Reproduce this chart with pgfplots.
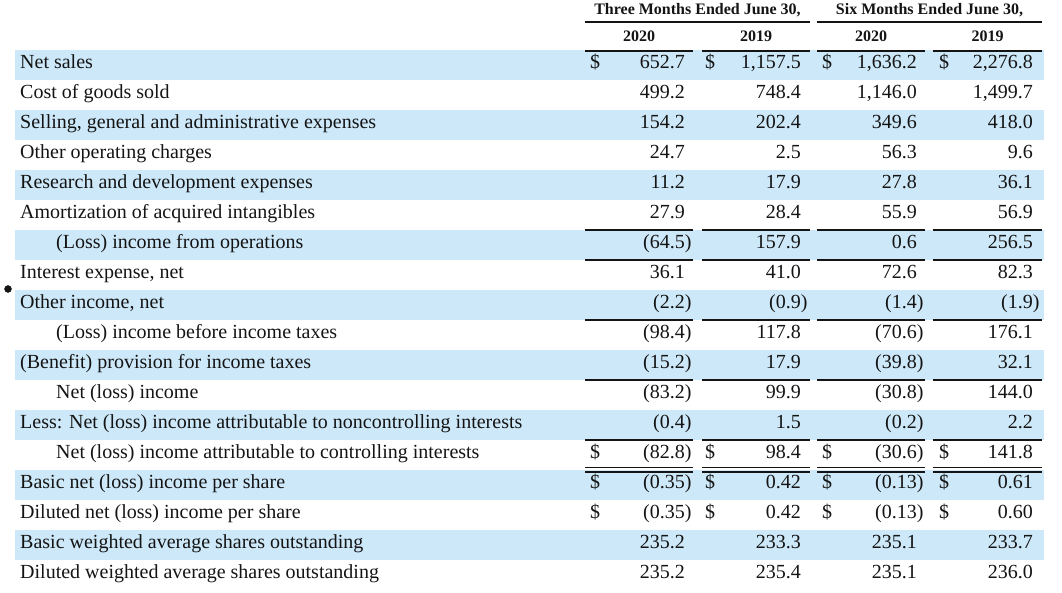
\documentclass[border=0pt]{standalone}
\usepackage{fontspec}
\setmainfont{Liberation Serif}
\usepackage{pgfplots}
\usepackage{pgfplotstable}
\pgfplotsset{compat=1.18}
\definecolor{band}{RGB}{205,232,248}
\definecolor{ink}{RGB}{20,20,20}
\newcommand{\pn}[1]{(#1\rlap{)}}

\pgfplotstableread[col sep=semicolon,row sep=\\]{
x;y;t\\
20;68.5;Net sales\\
20;98.5;Cost of goods sold\\
20;128.5;Selling, general and administrative expenses\\
20;158.5;Other operating charges\\
20;188.5;Research and development expenses\\
20;218.5;Amortization of acquired intangibles\\
56;248.5;(Loss) income from operations\\
20;278.5;Interest expense, net\\
20;308.5;Other income, net\\
56;338.5;(Loss) income before income taxes\\
20;368.5;(Benefit) provision for income taxes\\
56;398.5;Net (loss) income\\
20;428.5;Less: Net (loss) income attributable to noncontrolling interests\\
56;458.5;Net (loss) income attributable to controlling interests\\
20;488.5;Basic net (loss) income per share\\
20;518.5;Diluted net (loss) income per share\\
20;548.5;Basic weighted average shares outstanding\\
20;578.5;Diluted weighted average shares outstanding\\
}\labels

\pgfplotstableread[col sep=semicolon,row sep=\\]{
x;y;t\\
685;68.5;652.7\\
801;68.5;1,157.5\\
917;68.5;1,636.2\\
1033;68.5;2,276.8\\
685;98.5;499.2\\
801;98.5;748.4\\
917;98.5;1,146.0\\
1033;98.5;1,499.7\\
685;128.5;154.2\\
801;128.5;202.4\\
917;128.5;349.6\\
1033;128.5;418.0\\
685;158.5;24.7\\
801;158.5;2.5\\
917;158.5;56.3\\
1033;158.5;9.6\\
685;188.5;11.2\\
801;188.5;17.9\\
917;188.5;27.8\\
1033;188.5;36.1\\
685;218.5;27.9\\
801;218.5;28.4\\
917;218.5;55.9\\
1033;218.5;56.9\\
685;248.5;\pn{64.5}\\
801;248.5;157.9\\
917;248.5;0.6\\
1033;248.5;256.5\\
685;278.5;36.1\\
801;278.5;41.0\\
917;278.5;72.6\\
1033;278.5;82.3\\
685;308.5;\pn{2.2}\\
801;308.5;\pn{0.9}\\
917;308.5;\pn{1.4}\\
1033;308.5;\pn{1.9}\\
685;338.5;\pn{98.4}\\
801;338.5;117.8\\
917;338.5;\pn{70.6}\\
1033;338.5;176.1\\
685;368.5;\pn{15.2}\\
801;368.5;17.9\\
917;368.5;\pn{39.8}\\
1033;368.5;32.1\\
685;398.5;\pn{83.2}\\
801;398.5;99.9\\
917;398.5;\pn{30.8}\\
1033;398.5;144.0\\
685;428.5;\pn{0.4}\\
801;428.5;1.5\\
917;428.5;\pn{0.2}\\
1033;428.5;2.2\\
685;458.5;\pn{82.8}\\
801;458.5;98.4\\
917;458.5;\pn{30.6}\\
1033;458.5;141.8\\
685;488.5;\pn{0.35}\\
801;488.5;0.42\\
917;488.5;\pn{0.13}\\
1033;488.5;0.61\\
685;518.5;\pn{0.35}\\
801;518.5;0.42\\
917;518.5;\pn{0.13}\\
1033;518.5;0.60\\
685;548.5;235.2\\
801;548.5;233.3\\
917;548.5;235.1\\
1033;548.5;233.7\\
685;578.5;235.2\\
801;578.5;235.4\\
917;578.5;235.1\\
1033;578.5;236.0\\
}\numbers

\pgfplotstableread[col sep=semicolon,row sep=\\]{
x;y\\
590;68.5\\ 705;68.5\\ 822;68.5\\ 939;68.5\\
590;458.5\\ 705;458.5\\ 822;458.5\\ 939;458.5\\
590;488.5\\ 705;488.5\\ 822;488.5\\ 939;488.5\\
590;518.5\\ 705;518.5\\ 822;518.5\\ 939;518.5\\
}\dollars

\pgfplotstableread[col sep=semicolon,row sep=\\]{
x;y;t\\
697.5;15;Three Months Ended June 30,\\
929.5;15;Six Months Ended June 30,\\
639;41.5;2020\\
756;41.5;2019\\
871;41.5;2020\\
987.5;41.5;2019\\
}\headers

\begin{document}
\begin{tikzpicture}
\begin{axis}[
  width=1062pt, height=593pt, scale only axis,
  xmin=0, xmax=1062, ymin=0, ymax=593,
  y dir=reverse, hide axis, clip=false,
  unbounded coords=jump,
]
% bands
\addplot[fill=band, draw=none] coordinates {(15,50) (1044,50) (1044,80) (15,80)} -- cycle;
\addplot[fill=band, draw=none] coordinates {(15,110) (1044,110) (1044,140) (15,140)} -- cycle;
\addplot[fill=band, draw=none] coordinates {(15,170) (1044,170) (1044,200) (15,200)} -- cycle;
\addplot[fill=band, draw=none] coordinates {(15,230) (1044,230) (1044,260) (15,260)} -- cycle;
\addplot[fill=band, draw=none] coordinates {(15,290) (1044,290) (1044,320) (15,320)} -- cycle;
\addplot[fill=band, draw=none] coordinates {(15,350) (1044,350) (1044,380) (15,380)} -- cycle;
\addplot[fill=band, draw=none] coordinates {(15,410) (1044,410) (1044,440) (15,440)} -- cycle;
\addplot[fill=band, draw=none] coordinates {(15,470) (1044,470) (1044,500) (15,500)} -- cycle;
\addplot[fill=band, draw=none] coordinates {(15,530) (1044,530) (1044,560) (15,560)} -- cycle;
% header rules
\addplot[ink, line width=2.5pt, mark=none] table[row sep=\\] {
x y\\ 585 22\\ 810 22\\ nan nan\\ 817 22\\ 1042 22\\
};
% column rules
\addplot[ink, line width=2.5pt, mark=none] table[row sep=\\] {
x y\\
585 51\\ 693 51\\ nan nan\\ 702 51\\ 810 51\\ nan nan\\ 817 51\\ 925 51\\ nan nan\\ 933 51\\ 1042 51\\ nan nan\\
585 230\\ 693 230\\ nan nan\\ 702 230\\ 810 230\\ nan nan\\ 817 230\\ 925 230\\ nan nan\\ 933 230\\ 1042 230\\ nan nan\\
585 260\\ 693 260\\ nan nan\\ 702 260\\ 810 260\\ nan nan\\ 817 260\\ 925 260\\ nan nan\\ 933 260\\ 1042 260\\ nan nan\\
585 320\\ 693 320\\ nan nan\\ 702 320\\ 810 320\\ nan nan\\ 817 320\\ 925 320\\ nan nan\\ 933 320\\ 1042 320\\ nan nan\\
585 380\\ 693 380\\ nan nan\\ 702 380\\ 810 380\\ nan nan\\ 817 380\\ 925 380\\ nan nan\\ 933 380\\ 1042 380\\ nan nan\\
585 440\\ 693 440\\ nan nan\\ 702 440\\ 810 440\\ nan nan\\ 817 440\\ 925 440\\ nan nan\\ 933 440\\ 1042 440\\
};
% double rules
\addplot[ink, line width=1.5pt, mark=none] table[row sep=\\] {
x y\\
585 467.5\\ 693 467.5\\ nan nan\\ 702 467.5\\ 810 467.5\\ nan nan\\ 817 467.5\\ 925 467.5\\ nan nan\\ 933 467.5\\ 1042 467.5\\ nan nan\\
585 472\\ 693 472\\ nan nan\\ 702 472\\ 810 472\\ nan nan\\ 817 472\\ 925 472\\ nan nan\\ 933 472\\ 1042 472\\
};
% bullet
\addplot[only marks, mark=*, mark size=3.5pt, ink] coordinates {(8,289)};
% labels
\addplot[draw=none, mark=none, nodes near coords, point meta=explicit symbolic,
  every node near coord/.style={anchor=base west, inner sep=0pt, text=ink, font=\fontsize{20}{24}\selectfont}]
  table[x=x, y=y, meta=t] {\labels};
% numbers
\addplot[draw=none, mark=none, nodes near coords, point meta=explicit symbolic,
  every node near coord/.style={anchor=base east, inner sep=0pt, text=ink, font=\fontsize{20}{24}\selectfont}]
  table[x=x, y=y, meta=t] {\numbers};
% dollar signs
\addplot[draw=none, mark=none, nodes near coords={\$}, point meta=x,
  every node near coord/.style={anchor=base west, inner sep=0pt, text=ink, font=\fontsize{20}{24}\selectfont}]
  table[x=x, y=y] {\dollars};
% headers
\addplot[draw=none, mark=none, nodes near coords, point meta=explicit symbolic,
  every node near coord/.style={anchor=base, inner sep=0pt, text=ink, font=\fontsize{16}{19}\selectfont\bfseries}]
  table[x=x, y=y, meta=t] {\headers};
% full-size bounding box
\path (rel axis cs:0,0) rectangle (rel axis cs:1,1);
\end{axis}
\end{tikzpicture}
\end{document}
